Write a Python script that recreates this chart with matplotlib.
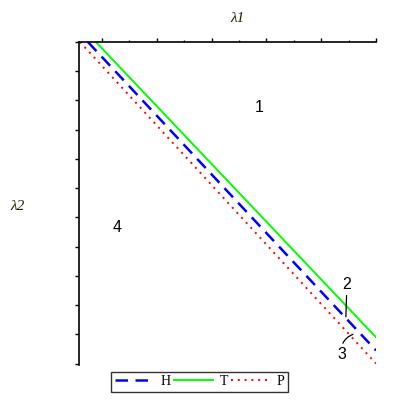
import matplotlib
matplotlib.use("Agg")
import matplotlib.pyplot as plt
import numpy as np

# lambda1 / lambda2 boundary lines
h_l1 = [0.745, 6.0]
h_l2 = [0.0, -10.55]
t_l1 = [0.891, 6.0]
t_l2 = [0.0, -10.1]
p_l1 = [0.60, 6.0]
p_l2 = [0.0, -11.0]

# region labels
region_txt = ["1", "4"]
region_l1 = [3.87, 1.27]
region_l2 = [-2.23, -6.34]

x_major = [1, 2, 3, 4, 5, 6]
x_minor = [1.5, 2.5, 3.5, 4.5, 5.5]
y_major = list(range(0, -12, -1))

fig = plt.figure(figsize=(4, 4), dpi=100)
ax = fig.add_axes([0.1975, 0.0875, 0.7425, 0.8075])

lh, = ax.plot(h_l1, h_l2, color="#0000ff", lw=1.8, dashes=(5, 3))
lt, = ax.plot(t_l1, t_l2, color="#00ff00", lw=1.4)
lp, = ax.plot(p_l1, p_l2, color="#ff0000", lw=1.4, dashes=(1, 2.5))

ax.set_xlim(0.582, 6.0)
ax.set_ylim(-11.05, 0.0)

for s in ["bottom", "right"]:
    ax.spines[s].set_visible(False)
ax.spines["top"].set_linewidth(1.2)
ax.spines["left"].set_linewidth(1.2)

ax.xaxis.tick_top()
ax.set_xticks(x_major)
ax.set_xticks(x_minor, minor=True)
ax.set_yticks(y_major)
ax.tick_params(axis="x", which="major", direction="out", length=3.2, width=1, labeltop=False)
ax.tick_params(axis="x", which="minor", direction="out", length=1.8, width=1)
ax.tick_params(axis="y", which="major", direction="out", length=3, width=1, labelleft=False)

fig.text(0.595, 0.955, "λ1", fontsize=11, family="Liberation Serif", style="italic",
         ha="center", va="center", color="#222200")
fig.text(0.043, 0.485, "λ2", fontsize=11, family="Liberation Serif", style="italic",
         ha="center", va="center", color="#222200")

for t, a, b in zip(region_txt, region_l1, region_l2):
    ax.text(a, b, t, fontsize=11.5, family="Liberation Sans", ha="center", va="center")

ax.annotate("2", xy=(5.45, -9.4), xytext=(5.47, -8.3), fontsize=11.5,
            family="Liberation Sans", ha="center", va="center",
            arrowprops=dict(arrowstyle="-", color="black", lw=0.9, shrinkA=0.5, shrinkB=0))
ax.annotate("3", xy=(5.58, -10.0), xytext=(5.38, -10.68), fontsize=11.5,
            family="Liberation Sans", ha="center", va="center",
            arrowprops=dict(arrowstyle="-", color="black", lw=0.9, shrinkA=0.5, shrinkB=0,
                            connectionstyle="arc3,rad=-0.4"))

leg = fig.legend([lh, lt, lp], ["H", "T", "P"], loc="center", bbox_to_anchor=(0.499, 0.046),
                 ncol=3, frameon=True, fancybox=False, edgecolor="black",
                 prop={"family": "Liberation Serif", "size": 10},
                 handlelength=2.8, handletextpad=0.5, columnspacing=0.2,
                 borderpad=0.25, borderaxespad=0)
leg.get_frame().set_linewidth(1.0)

fig.savefig("out.png", dpi=100)
